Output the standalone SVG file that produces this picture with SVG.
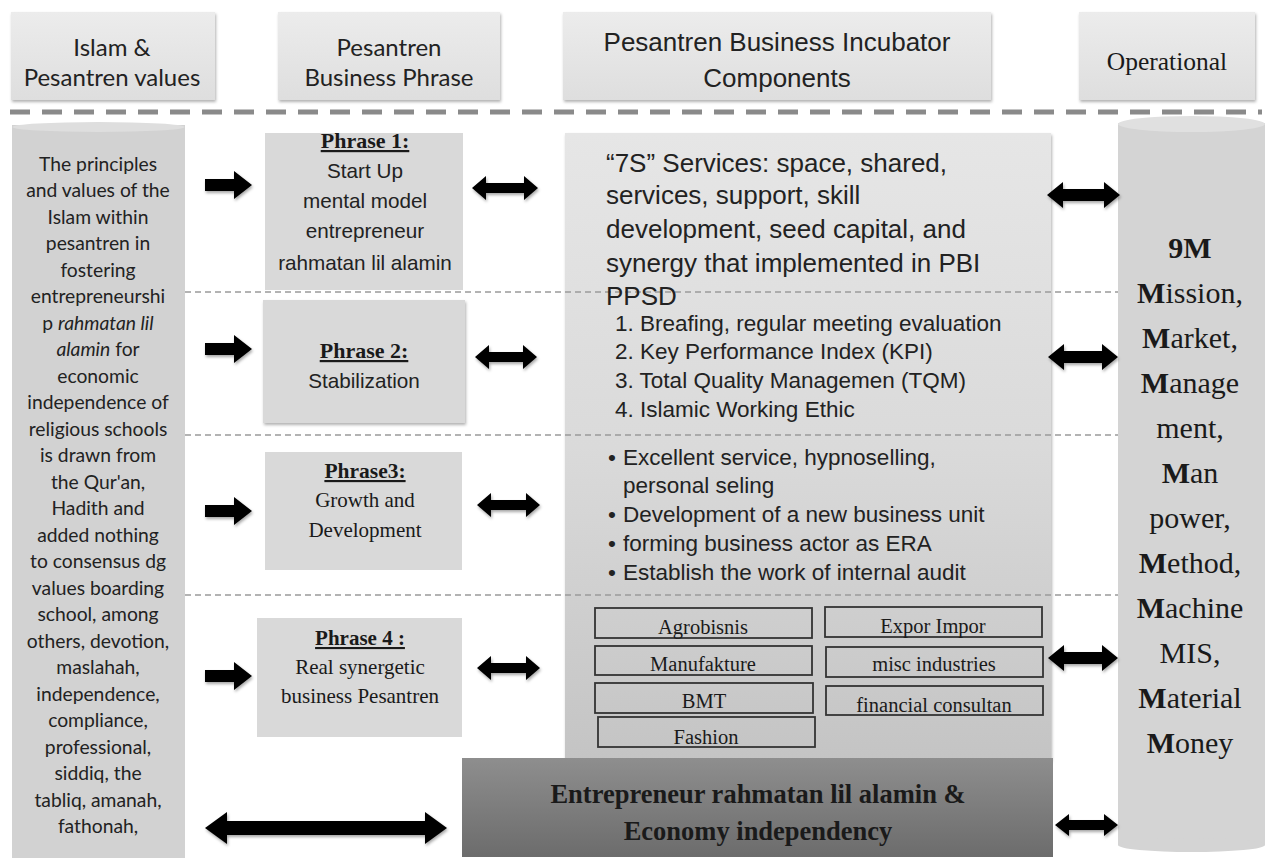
<svg xmlns="http://www.w3.org/2000/svg" width="1267" height="860" viewBox="0 0 1267 860">
<defs>
<linearGradient id="gHead" x1="0" y1="0" x2="0" y2="1"><stop offset="0" stop-color="#ececec"/><stop offset="1" stop-color="#dedede"/></linearGradient>
<linearGradient id="gCenter" x1="0" y1="0" x2="0" y2="1"><stop offset="0" stop-color="#e6e6e6"/><stop offset="0.5" stop-color="#dadada"/><stop offset="1" stop-color="#c4c4c4"/></linearGradient>
<linearGradient id="gDark" x1="0" y1="0" x2="0" y2="1"><stop offset="0" stop-color="#8e8e8e"/><stop offset="1" stop-color="#6c6c6c"/></linearGradient>
<filter id="sh" x="-10%" y="-10%" width="125%" height="130%"><feDropShadow dx="1" dy="2" stdDeviation="1.5" flood-color="#000" flood-opacity="0.3"/></filter>
<filter id="ash" x="-20%" y="-30%" width="140%" height="170%"><feDropShadow dx="1" dy="2" stdDeviation="1.5" flood-color="#000" flood-opacity="0.35"/></filter>
<style>
.hdr{fill:url(#gHead);filter:url(#sh)}
.cal{font-family:Lato,"Open Sans",sans-serif;fill:#222}
.ari{font-family:"Liberation Sans",Arial,sans-serif;fill:#222}
.tms{font-family:"Liberation Serif","Times New Roman",serif;fill:#1a1a1a}
.mid{text-anchor:middle}
.ph{fill:#d9d9d9}
.sb{fill:none;stroke:#333;stroke-width:1.8}
.dash{stroke:#9a9a9a;stroke-width:1.5;stroke-dasharray:6 4;fill:none}
.arr{fill:#000;filter:url(#ash)}
</style>
</defs>
<rect width="1267" height="860" fill="#ffffff"/>

<!-- header -->
<g id="hdr-values"><rect class="hdr" x="11" y="12" width="204" height="88"/>
<text class="cal mid" x="112" y="56" font-size="24">Islam &amp;</text>
<text class="cal mid" x="112" y="86" font-size="24">Pesantren values</text></g>
<g id="hdr-phrase"><rect class="hdr" x="278" y="12" width="222" height="88"/>
<text class="cal mid" x="389" y="56" font-size="24">Pesantren</text>
<text class="cal mid" x="389" y="86" font-size="24">Business Phrase</text></g>
<g id="hdr-components"><rect class="hdr" x="563" y="12" width="428" height="88"/>
<text class="ari mid" x="777" y="51" font-size="26">Pesantren Business Incubator</text>
<text class="ari mid" x="777" y="87" font-size="26">Components</text></g>
<g id="hdr-operational"><rect class="hdr" x="1079" y="12" width="176" height="88"/>
<text class="tms mid" x="1167" y="70" font-size="25.5">Operational</text></g>
<line x1="10" y1="112" x2="1262" y2="112" stroke="#8a8a8a" stroke-width="5" stroke-dasharray="20 12"/>

<!-- left column -->
<g id="values">
<rect x="12" y="125" width="173" height="733" fill="#d2d2d2"/>
<ellipse cx="98.5" cy="127" rx="86" ry="5" fill="#dedede"/>
<g class="cal mid" font-size="19.3">
<text x="98" y="170.5">The principles</text>
<text x="98" y="197">and values of the</text>
<text x="98" y="223.5">Islam within</text>
<text x="98" y="250">pesantren in</text>
<text x="98" y="276.5">fostering</text>
<text x="98" y="303">entrepreneurshi</text>
<text x="98" y="329.5">p <tspan font-style="italic">rahmatan lil</tspan></text>
<text x="98" y="356"><tspan font-style="italic">alamin</tspan> for</text>
<text x="98" y="382.5">economic</text>
<text x="98" y="409">independence of</text>
<text x="98" y="435.5">religious schools</text>
<text x="98" y="462">is drawn from</text>
<text x="98" y="488.5">the Qur'an,</text>
<text x="98" y="515">Hadith and</text>
<text x="98" y="541.5">added nothing</text>
<text x="98" y="568">to consensus dg</text>
<text x="98" y="594.5">values boarding</text>
<text x="98" y="621">school, among</text>
<text x="98" y="647.5">others, devotion,</text>
<text x="98" y="674">maslahah,</text>
<text x="98" y="700.5">independence,</text>
<text x="98" y="727">compliance,</text>
<text x="98" y="753.5">professional,</text>
<text x="98" y="780">siddiq, the</text>
<text x="98" y="806.5">tabliq, amanah,</text>
<text x="98" y="833">fathonah,</text>
</g></g>

<!-- right column -->
<g id="operational">
<rect x="1118" y="123" width="147" height="722" fill="#d4d4d4"/>
<ellipse cx="1191.5" cy="845" rx="73.5" ry="7" fill="#d4d4d4"/>
<ellipse cx="1191.5" cy="124" rx="73.5" ry="8" fill="#e0e0e0"/>
<g class="tms mid" font-size="30">
<text x="1190" y="258" font-weight="bold">9M</text>
<text x="1190" y="303"><tspan font-weight="bold">M</tspan>ission,</text>
<text x="1190" y="348"><tspan font-weight="bold">M</tspan>arket,</text>
<text x="1190" y="393"><tspan font-weight="bold">M</tspan>anage</text>
<text x="1190" y="438">ment,</text>
<text x="1190" y="483"><tspan font-weight="bold">M</tspan>an</text>
<text x="1190" y="528">power,</text>
<text x="1190" y="573"><tspan font-weight="bold">M</tspan>ethod,</text>
<text x="1190" y="618"><tspan font-weight="bold">M</tspan>achine</text>
<text x="1190" y="663">MIS,</text>
<text x="1190" y="708"><tspan font-weight="bold">M</tspan>aterial</text>
<text x="1190" y="753"><tspan font-weight="bold">M</tspan>oney</text>
</g></g>

<!-- center box -->
<g id="components">
<rect x="565" y="133" width="486" height="627" fill="url(#gCenter)" filter="url(#sh)"/>
</g>

<!-- dashed separators -->
<g id="separators">
<line class="dash" x1="185" y1="292" x2="1118" y2="292"/>
<line class="dash" x1="185" y1="435" x2="1118" y2="435"/>
<line class="dash" x1="185" y1="595" x2="1118" y2="595"/>
</g>

<g id="services">
<g class="ari" font-size="26">
<text x="606" y="172">“7S” Services: space, shared,</text>
<text x="606" y="204">services, support, skill</text>
<text x="606" y="238">development, seed capital, and</text>
<text x="606" y="272">synergy that implemented in PBI</text>
<text x="606" y="305">PPSD</text>
</g></g>
<g id="stabilization-items" class="ari" font-size="22.5">
<text x="615" y="331">1. Breafing, regular meeting evaluation</text>
<text x="615" y="359">2. Key Performance Index (KPI)</text>
<text x="615" y="388">3. Total Quality Managemen (TQM)</text>
<text x="615" y="417">4. Islamic Working Ethic</text>
</g>
<g id="growth-items" class="ari" font-size="22.5">
<text x="608" y="465">•</text><text x="623" y="465">Excellent service, hypnoselling,</text>
<text x="623" y="493">personal seling</text>
<text x="608" y="522">•</text><text x="623" y="522">Development of a new business unit</text>
<text x="608" y="551">•</text><text x="623" y="551">forming business actor as ERA</text>
<text x="608" y="580">•</text><text x="623" y="580">Establish the work of internal audit</text>
</g>
<g id="units" class="tms" font-size="20.5">
<g id="u-agro"><rect class="sb" x="595" y="608" width="217" height="30"/><text class="mid" x="703" y="634">Agrobisnis</text></g>
<g id="u-expor"><rect class="sb" x="825" y="607" width="217" height="30"/><text class="mid" x="933" y="633">Expor Impor</text></g>
<g id="u-manu"><rect class="sb" x="595" y="646" width="217" height="29"/><text class="mid" x="703" y="671">Manufakture</text></g>
<g id="u-misc"><rect class="sb" x="826" y="647" width="217" height="30"/><text class="mid" x="934" y="671">misc industries</text></g>
<g id="u-bmt"><rect class="sb" x="595" y="683" width="218" height="30"/><text class="mid" x="704" y="708">BMT</text></g>
<g id="u-fin"><rect class="sb" x="826" y="686" width="217" height="29"/><text class="mid" x="934" y="712">financial consultan</text></g>
<g id="u-fashion"><rect class="sb" x="598" y="717" width="217" height="30"/><text class="mid" x="706" y="744">Fashion</text></g>
</g>

<!-- phrase boxes -->
<g id="phrase1"><rect class="ph" x="265" y="133" width="198" height="157"/>
<text class="tms mid" x="365" y="148" font-size="22" font-weight="bold" text-decoration="underline">Phrase 1:</text>
<g class="ari mid" font-size="20.7">
<text x="365" y="178">Start Up</text>
<text x="365" y="208">mental model</text>
<text x="365" y="238">entrepreneur</text>
<text x="365" y="270">rahmatan lil alamin</text></g></g>
<g id="phrase2"><rect class="ph" x="263" y="300" width="202" height="123" filter="url(#sh)"/>
<text class="tms mid" x="364" y="358" font-size="22" font-weight="bold" text-decoration="underline">Phrase 2:</text>
<text class="ari mid" x="364" y="388" font-size="20.7">Stabilization</text></g>
<g id="phrase3"><rect class="ph" x="265" y="452" width="197" height="118"/>
<text class="tms mid" x="365" y="478" font-size="21.5" font-weight="bold" text-decoration="underline">Phrase3:</text>
<text class="tms mid" x="365" y="507" font-size="21">Growth and</text>
<text class="tms mid" x="365" y="537" font-size="21">Development</text></g>
<g id="phrase4"><rect class="ph" x="257" y="618" width="205" height="119"/>
<text class="tms mid" x="360" y="645" font-size="21" font-weight="bold" text-decoration="underline">Phrase 4 :</text>
<text class="tms mid" x="360" y="674" font-size="21">Real synergetic</text>
<text class="tms mid" x="360" y="703" font-size="21">business Pesantren</text></g>

<!-- bottom outcome -->
<g id="outcome"><rect x="462" y="758" width="591" height="99" fill="url(#gDark)"/>
<text class="tms mid" x="758" y="803" font-size="26.5" font-weight="bold">Entrepreneur rahmatan lil alamin &amp;</text>
<text class="tms mid" x="758" y="840" font-size="26.5" font-weight="bold">Economy independency</text></g>

<!-- connectors -->
<g id="connectors">
<polygon class="arr" points="205,179 234,179 234,171 252,185 234,199 234,191 205,191"/>
<polygon class="arr" points="205,343 234,343 234,335 252,349 234,363 234,355 205,355"/>
<polygon class="arr" points="205,505 234,505 234,497 252,511 234,525 234,517 205,517"/>
<polygon class="arr" points="205,670 234,670 234,662 252,676 234,690 234,682 205,682"/>
<polygon class="arr" points="472,188 486,176 486,183 524,183 524,176 538,188 524,200 524,193 486,193 486,200"/>
<polygon class="arr" points="475,357 489,345 489,352 523,352 523,345 537,357 523,369 523,362 489,362 489,369"/>
<polygon class="arr" points="477,505 491,493 491,500 526,500 526,493 540,505 526,517 526,510 491,510 491,517"/>
<polygon class="arr" points="477,668 491,656 491,663 526,663 526,656 540,668 526,680 526,673 491,673 491,680"/>
<polygon class="arr" points="1047,195 1063,182 1063,189 1104,189 1104,182 1120,195 1104,208 1104,201 1063,201 1063,208"/>
<polygon class="arr" points="1048,357 1064,344 1064,351 1102,351 1102,344 1118,357 1102,370 1102,363 1064,363 1064,370"/>
<polygon class="arr" points="1048,658 1064,645 1064,652 1102,652 1102,645 1118,658 1102,671 1102,664 1064,664 1064,671"/>
<polygon class="arr" points="1055,825 1069,814 1069,820 1104,820 1104,814 1118,825 1104,836 1104,830 1069,830 1069,836"/>
<polygon class="arr" points="205,828 227,812 227,821 425,821 425,812 447,828 425,844 425,835 227,835 227,844"/>
</g>
</svg>
